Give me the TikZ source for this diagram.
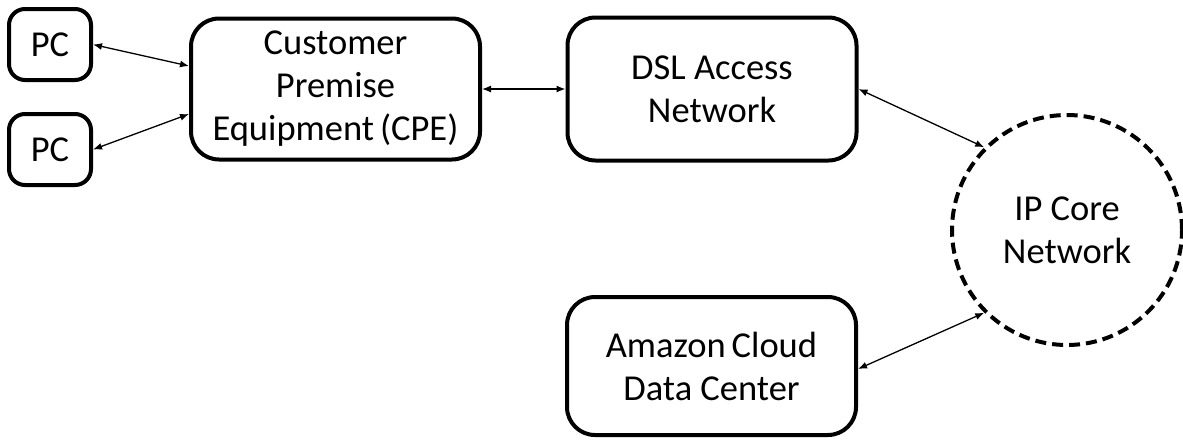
\documentclass[tikz,border=0pt]{standalone}
\usepackage{fontspec}
\setmainfont{Carlito}
\usetikzlibrary{arrows.meta,calc}
\tikzset{
  box/.style={draw, line width=4pt, rounded corners=28pt, align=center,
    inner sep=0pt, font=\fontsize{36.5}{43}\selectfont},
  pcbox/.style={box, rounded corners=16pt, minimum width=82pt, minimum height=71pt},
  bigbox/.style={box, minimum width=289pt, minimum height=141pt},
  cloud/.style={draw, circle, line width=4pt, dash pattern=on 11pt off 6pt,
    minimum size=230pt, inner sep=0pt, align=center, font=\fontsize{36.5}{43}\selectfont},
  link/.style={{Latex[length=9pt,width=7pt]}-{Latex[length=9pt,width=7pt]}, line width=1.3pt}
}
\begin{document}
\begin{tikzpicture}[x=1pt,y=-1pt]
  \useasboundingbox (0,0) rectangle (1183,440);

  \node[pcbox] (pc1) at (50,44.5) {PC};
  \node[pcbox] (pc2) at (50,149.5) {PC};
  \node[bigbox] (cpe) at (335.5,89) {Customer\\Premise\\Equipment\,(CPE)};
  \node[bigbox, minimum height=143pt] (dsl) at (712,89) {DSL Access\\Network};
  \node[bigbox, minimum height=138pt] (cloudc) at (711.5,366) {Amazon\,Cloud\\Data Center};
  \node[cloud] (core) at (1067,230) {IP Core\\Network};

  \draw[link] (pc1.east) -- ([yshift=23pt]cpe.west);
  \draw[link] (pc2.east) -- ([yshift=-25pt]cpe.west);
  \draw[link] (cpe.east) -- (dsl.west);
  \draw[link] (dsl.east) -- (core.135);
  \draw[link] ([yshift=-3pt]cloudc.east) -- (core.225);
\end{tikzpicture}
\end{document}
